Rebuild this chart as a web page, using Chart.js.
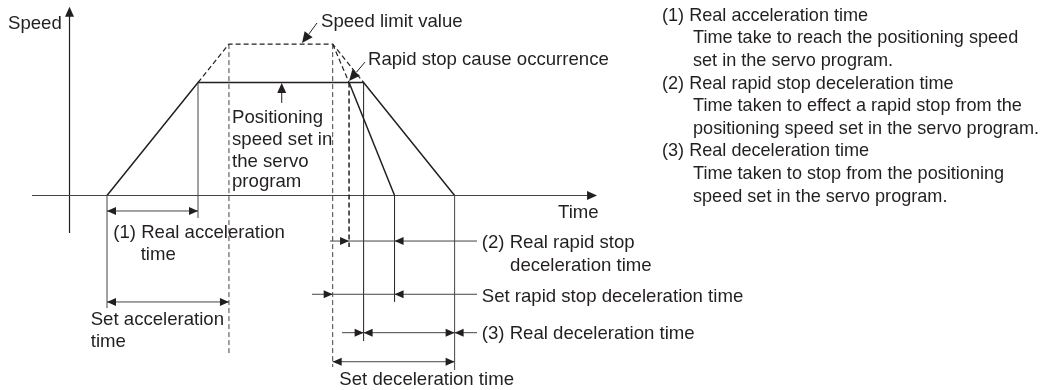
<!DOCTYPE html>
<html>
<head>
<meta charset="utf-8">
<script src="https://cdn.jsdelivr.net/npm/chart.js@4/dist/chart.umd.min.js"></script>
<style>
  html, body { margin: 0; padding: 0; background: #ffffff; }
  #wrap { width: 1045px; height: 390px; }
</style>
</head>
<body>
<div id="wrap"><canvas id="c" width="1045" height="390"></canvas></div>
<script>
// ---- Data (time in arbitrary units, speed in % of positioning speed) ----
const profileTime  = [0, 10, 28.2, 38.2];      // normal positioning profile
const profileSpeed = [0, 100, 100, 0];
const rapidTime    = [26.6, 31.6];             // rapid stop deceleration
const rapidSpeed   = [100, 0];
const limitTime    = [10, 13.4, 24.8, 28.2];   // speed limit value profile (dashed)
const limitSpeed   = [100, 134, 134, 100];
const limitRapidTime  = [24.8, 26.6];          // rapid stop slope at speed limit (dashed)
const limitRapidSpeed = [134, 100];

// key instants
const tAccelStart = 0, tRealAccelEnd = 10, tSetAccelEnd = 13.4, tSetDecelStart = 24.8;
const tRapidCause = 26.6, tDecelStart = 28.2, tRapidEnd = 31.6, tDecelEnd = 38.2;
const positioningSpeed = 100, speedLimit = 134;

// texts
const axisLabels = ["Speed", "Time"];
const calloutLabels = ["Speed limit value", "Rapid stop cause occurrence"];
const positioningLabel = ["Positioning", "speed set in", "the servo", "program"];
const realAccelLabel = ["(1) Real acceleration", "time"];
const setAccelLabel = ["Set acceleration", "time"];
const realRapidLabel = ["(2) Real rapid stop", "deceleration time"];
const setRapidLabel = "Set rapid stop deceleration time";
const realDecelLabel = "(3) Real deceleration time";
const setDecelLabel = "Set deceleration time";
const notes = [
  ["(1) Real acceleration time", 0], ["Time take to reach the positioning speed", 1], ["set in the servo program.", 1],
  ["(2) Real rapid stop deceleration time", 0], ["Time taken to effect a rapid stop from the", 1], ["positioning speed set in the servo program.", 1],
  ["(3) Real deceleration time", 0], ["Time taken to stop from the positioning", 1], ["speed set in the servo program.", 1]
];

const INK = '#231f20';
const GREY = '#444444';
const FONT = '18.6px "Liberation Sans", Arial, sans-serif';
const NOTE_FONT = '18.1px "Liberation Sans", Arial, sans-serif';

function pts(xs, ys) { return xs.map((x, i) => ({x: x, y: ys[i]})); }

const diagramPlugin = {
  id: 'diagram',
  afterDatasetsDraw(chart) {
    const ctx = chart.ctx;
    const X = v => chart.scales.x.getPixelForValue(v);
    const Y = v => chart.scales.y.getPixelForValue(v);

    function line(t1, v1, t2, v2, color, width, dash) {
      ctx.save();
      ctx.strokeStyle = color; ctx.lineWidth = width; ctx.setLineDash(dash || []);
      ctx.beginPath(); ctx.moveTo(X(t1), Y(v1)); ctx.lineTo(X(t2), Y(v2)); ctx.stroke();
      ctx.restore();
    }
    function head(t, v, fromT, fromV, len, hw) {
      const tx = X(t), ty = Y(v), fx = X(fromT), fy = Y(fromV);
      const dx = tx - fx, dy = ty - fy, d = Math.hypot(dx, dy);
      const ux = dx / d, uy = dy / d;
      const bx = tx - ux * len, by = ty - uy * len;
      ctx.save(); ctx.fillStyle = INK;
      ctx.beginPath(); ctx.moveTo(tx, ty);
      ctx.lineTo(bx - uy * hw, by + ux * hw); ctx.lineTo(bx + uy * hw, by - ux * hw);
      ctx.closePath(); ctx.fill(); ctx.restore();
    }
    function text(str, t, v) {
      ctx.save(); ctx.fillStyle = INK; ctx.font = FONT;
      ctx.textAlign = 'left'; ctx.textBaseline = 'alphabetic';
      ctx.fillText(str, X(t), Y(v)); ctx.restore();
    }

    // axes
    line(-4.12, -33.2, -4.12, 160, INK, 1.2);
    head(-4.12, 167, -4.12, 0, 10, 4.5);
    line(-8.24, 0, 52.8, 0, GREY, 1.2);
    head(53.85, 0, 0, 0, 10, 4.5);

    // extension lines (solid)
    line(tAccelStart, 0, tAccelStart, -99.6, GREY, 1);
    line(tRealAccelEnd, positioningSpeed, tRealAccelEnd, -19.9, GREY, 1);
    line(tDecelStart, positioningSpeed, tDecelStart, -128.8, INK, 1);
    line(tRapidEnd, 0, tRapidEnd, -94.2, INK, 1);
    line(tDecelEnd, 0, tDecelEnd, -154.4, GREY, 1);
    // extension lines (dashed)
    line(tSetAccelEnd, speedLimit, tSetAccelEnd, -141, '#444', 1, [5, 3]);
    line(tSetDecelStart, speedLimit, tSetDecelStart, -151.8, '#444', 1, [5, 3]);
    line(tRapidCause, positioningSpeed, tRapidCause, -45.6, INK, 1.5, [5, 3]);

    // dimension lines
    function dimBoth(t1, t2, v) {
      line(t1, v, t2, v, GREY, 1);
      head(t1, v, t2, v, 9, 4); head(t2, v, t1, v, 9, 4);
    }
    dimBoth(tAccelStart, tRealAccelEnd, -13.7);
    dimBoth(tAccelStart, tSetAccelEnd, -94.2);
    dimBoth(tSetDecelStart, tDecelEnd, -147.1);

    const dimEnd = 40.66;
    // (2) real rapid stop
    line(24.5, -40.3, dimEnd, -40.3, GREY, 1);
    head(tRapidCause, -40.3, 0, -40.3, 9, 4);
    head(tRapidEnd, -40.3, 100, -40.3, 9, 4);
    // set rapid stop
    line(22.53, -87.4, dimEnd, -87.4, GREY, 1);
    head(tSetDecelStart, -87.4, 0, -87.4, 9, 4);
    head(tRapidEnd, -87.4, 100, -87.4, 9, 4);
    // (3) real decel
    line(25.82, -121.4, dimEnd, -121.4, GREY, 1);
    head(tDecelStart, -121.4, 0, -121.4, 9, 4);
    head(tDecelStart, -121.4, 100, -121.4, 9, 4);
    head(tDecelEnd, -121.4, 0, -121.4, 9, 4);
    head(tDecelEnd, -121.4, 100, -121.4, 9, 4);

    // leaders
    line(19.2, 81.9, 19.2, 95, INK, 1);
    head(19.2, 99.6, 19.2, 80, 10, 4.5);
    line(23.08, 152.7, 22.2, 143, INK, 1);
    head(21.43, 135, 23.08, 152.7, 11, 5);
    line(28.35, 118.1, 27.4, 109, INK, 1);
    head(tRapidCause, 101.3, 28.35, 118.1, 11, 5);

    // texts
    text(axisLabels[0], -10.88, 147.3);
    text(axisLabels[1], 49.56, -20.2);
    text(calloutLabels[0], 23.52, 148.8);
    text(calloutLabels[1], 28.68, 115.5);
    const posV = [63.9, 44.7, 25.5, 7.1];
    positioningLabel.forEach((s, i) => text(s, 13.74, posV[i]));
    text(realAccelLabel[0], 0.69, -37.9);
    text(realAccelLabel[1], 3.70, -57.1);
    text(setAccelLabel[0], -1.79, -114.6);
    text(setAccelLabel[1], -1.79, -133.8);
    text(realRapidLabel[0], 41.18, -46.7);
    text(realRapidLabel[1], 44.29, -66.5);
    text(setRapidLabel, 41.18, -94.0);
    text(realDecelLabel, 41.18, -127.3);
    text(setDecelLabel, 25.53, -167.7);

    // notes block at the right
    ctx.save(); ctx.fillStyle = INK; ctx.font = NOTE_FONT; ctx.textBaseline = 'alphabetic';
    notes.forEach((n, i) => {
      ctx.fillText(n[0], chart.chartArea.left + 662 + n[1] * 31, chart.chartArea.top + 20.7 + 22.6 * i);
    });
    ctx.restore();
  }
};

new Chart(document.getElementById('c'), {
  type: 'scatter',
  data: {
    datasets: [
      { data: pts(profileTime, profileSpeed), showLine: true, borderColor: INK, borderWidth: 1.5, pointRadius: 0, fill: false, tension: 0 },
      { data: pts(rapidTime, rapidSpeed), showLine: true, borderColor: INK, borderWidth: 1.5, pointRadius: 0, fill: false, tension: 0 },
      { data: pts(limitTime, limitSpeed), showLine: true, borderColor: INK, borderWidth: 1.2, borderDash: [5, 3], pointRadius: 0, fill: false, tension: 0 },
      { data: pts(limitRapidTime, limitRapidSpeed), showLine: true, borderColor: INK, borderWidth: 1.2, borderDash: [5, 3], pointRadius: 0, fill: false, tension: 0 }
    ]
  },
  options: {
    responsive: false,
    animation: false,
    devicePixelRatio: 1,
    layout: { padding: 0, autoPadding: false },
    plugins: { legend: { display: false }, tooltip: { enabled: false }, title: { display: false } },
    scales: {
      x: { type: 'linear', min: -107 / 9.1, max: (1045 - 107) / 9.1, display: false },
      y: { type: 'linear', min: (195.5 - 390) / 1.13, max: 195.5 / 1.13, display: false }
    }
  },
  plugins: [diagramPlugin]
});
</script>
</body>
</html>
